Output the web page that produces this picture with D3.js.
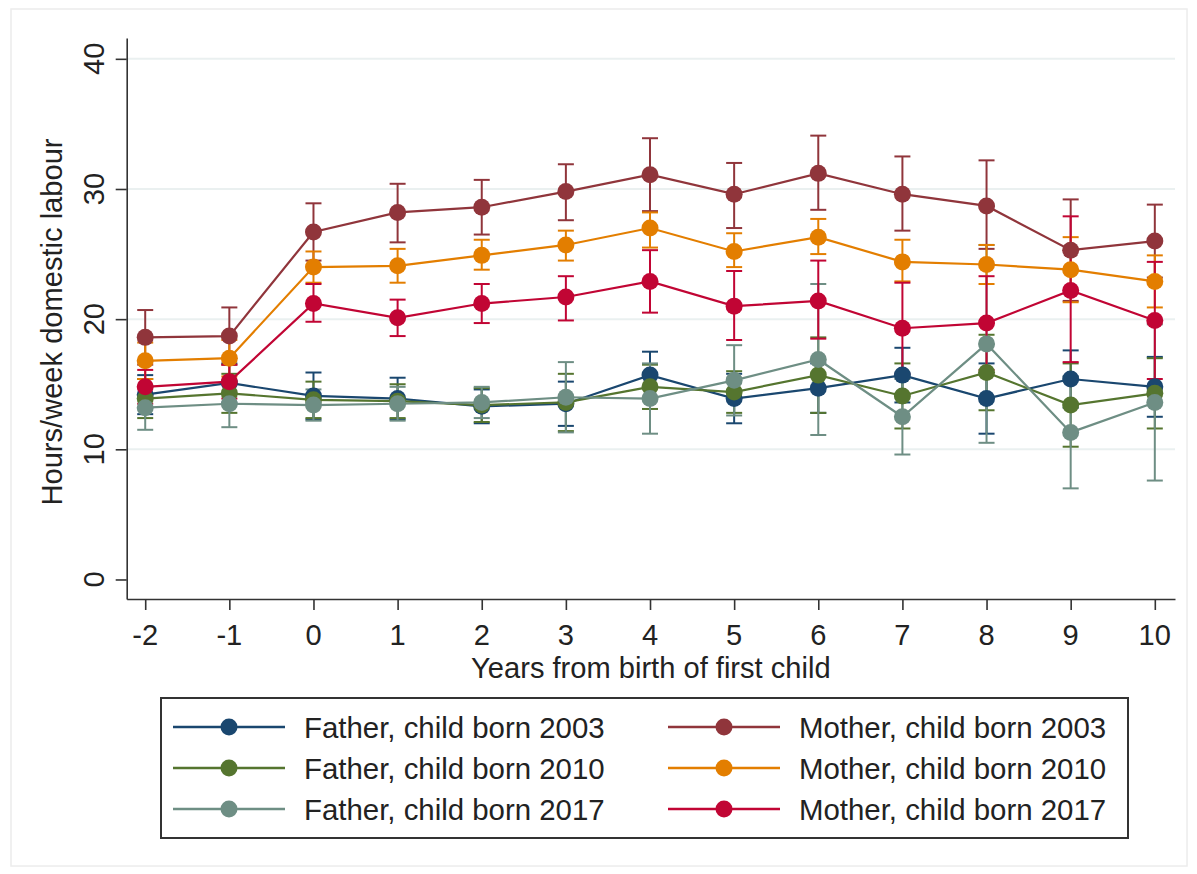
<!DOCTYPE html>
<html>
<head>
<meta charset="utf-8">
<script src="https://cdn.jsdelivr.net/npm/d3@7"></script>
<style>
  html, body { margin: 0; padding: 0; background: #ffffff; }
  svg { display: block; font-family: "Liberation Sans", Arial, sans-serif; }
</style>
</head>
<body>
<svg id="chart" width="1197" height="874"></svg>
<script>
// ---------------- DATA ----------------
const years = [-2, -1, 0, 1, 2, 3, 4, 5, 6, 7, 8, 9, 10];
const yTicks = [0, 10, 20, 30, 40];

const father2003   = [14.2, 15.1, 14.1, 13.9, 13.3, 13.5, 15.7, 13.9, 14.7, 15.7, 13.9, 15.4, 14.8];
const father2003Lo = [12.7, 13.6, 12.3, 12.3, 12.0, 11.8, 13.9, 12.0, 12.8, 13.6, 11.2, 13.2, 12.5];
const father2003Hi = [15.7, 16.6, 15.9, 15.5, 14.6, 15.2, 17.5, 15.8, 16.6, 17.8, 16.6, 17.6, 17.1];

const father2010   = [13.9, 14.3, 13.8, 13.7, 13.4, 13.6, 14.8, 14.4, 15.7, 14.1, 15.9, 13.4, 14.3];
const father2010Lo = [12.4, 12.8, 12.4, 12.4, 12.1, 11.4, 13.1, 12.8, 12.8, 11.6, 13.0, 10.2, 11.6];
const father2010Hi = [15.4, 15.8, 15.2, 15.0, 14.7, 15.8, 16.5, 16.0, 18.6, 16.6, 18.8, 16.6, 17.0];

const father2017   = [13.2, 13.5, 13.4, 13.5, 13.6, 14.0, 13.9, 15.3, 16.9, 12.5, 18.1, 11.3, 13.6];
const father2017Lo = [11.5, 11.7, 12.2, 12.2, 12.4, 11.3, 11.2, 12.6, 11.1, 9.6, 10.5, 7.0, 7.6];
const father2017Hi = [14.9, 15.3, 14.6, 14.8, 14.8, 16.7, 16.6, 18.0, 22.7, 15.4, 25.7, 15.6, 19.6];

const mother2003   = [18.6, 18.7, 26.7, 28.2, 28.6, 29.8, 31.1, 29.6, 31.2, 29.6, 28.7, 25.3, 26.0];
const mother2003Lo = [16.5, 16.5, 24.5, 25.9, 26.5, 27.6, 28.3, 27.0, 28.4, 26.8, 25.4, 21.4, 23.2];
const mother2003Hi = [20.7, 20.9, 28.9, 30.4, 30.7, 31.9, 33.9, 32.0, 34.1, 32.5, 32.2, 29.2, 28.8];

const mother2010   = [16.8, 17.0, 24.0, 24.1, 24.9, 25.7, 27.0, 25.2, 26.3, 24.4, 24.2, 23.8, 22.9];
const mother2010Lo = [15.4, 15.6, 22.8, 22.8, 23.8, 24.5, 25.5, 24.0, 25.0, 22.9, 22.7, 21.3, 20.9];
const mother2010Hi = [18.2, 18.4, 25.2, 25.4, 26.1, 26.8, 28.2, 26.6, 27.7, 26.1, 25.7, 26.3, 24.9];

const mother2017   = [14.8, 15.2, 21.2, 20.1, 21.2, 21.7, 22.9, 21.0, 21.4, 19.3, 19.7, 22.2, 19.9];
const mother2017Lo = [13.5, 13.9, 19.8, 18.7, 19.7, 19.9, 20.5, 18.4, 18.5, 15.8, 16.1, 16.7, 15.4];
const mother2017Hi = [16.1, 16.5, 22.7, 21.5, 22.7, 23.3, 25.3, 23.7, 24.5, 22.8, 23.3, 27.9, 24.4];

const seriesNames = [
  "Father, child born 2003", "Father, child born 2010", "Father, child born 2017",
  "Mother, child born 2003", "Mother, child born 2010", "Mother, child born 2017"
];
const seriesColors = ["#1a476f", "#55752f", "#6e8e84", "#90353b", "#e37e00", "#c10534"];

const xTitle = "Years from birth of first child";
const yTitle = "Hours/week domestic labour";

// --------------- BUILD ---------------
const series = [
  { name: seriesNames[0], color: seriesColors[0], v: father2003, lo: father2003Lo, hi: father2003Hi },
  { name: seriesNames[1], color: seriesColors[1], v: father2010, lo: father2010Lo, hi: father2010Hi },
  { name: seriesNames[2], color: seriesColors[2], v: father2017, lo: father2017Lo, hi: father2017Hi },
  { name: seriesNames[3], color: seriesColors[3], v: mother2003, lo: mother2003Lo, hi: mother2003Hi },
  { name: seriesNames[4], color: seriesColors[4], v: mother2010, lo: mother2010Lo, hi: mother2010Hi },
  { name: seriesNames[5], color: seriesColors[5], v: mother2017, lo: mother2017Lo, hi: mother2017Hi }
];

const svg = d3.select("#chart");
const textColor = "#222";
const fs = 30;
const sx = 0.97;

// outer faint frame
svg.append("rect").attr("x", 11).attr("y", 9).attr("width", 1176).attr("height", 857)
  .attr("fill", "none").attr("stroke", "#ececec").attr("stroke-width", 1.5);

const x = d3.scaleLinear().domain([-2.22, 10.24]).range([126.7, 1175]);
const y = d3.scaleLinear().domain([-1.5, 41.6]).range([599, 38]);

// grid
svg.append("g").selectAll("line").data(yTicks.filter(d => d > 0)).join("line")
  .attr("x1", x.range()[0]).attr("x2", x.range()[1])
  .attr("y1", d => y(d)).attr("y2", d => y(d))
  .attr("stroke", "#eaf0f0").attr("stroke-width", 2);

// axes
const yAxis = svg.append("g").attr("transform", `translate(${x.range()[0]},0)`)
  .call(d3.axisLeft(y).tickValues(yTicks).tickSize(11).tickSizeOuter(0).tickFormat(""));
const xAxis = svg.append("g").attr("transform", `translate(0,${y.range()[0]})`)
  .call(d3.axisBottom(x).tickValues(years).tickSize(11).tickSizeOuter(0).tickFormat(""));
[yAxis, xAxis].forEach(a => {
  a.selectAll("path, line").attr("stroke", "#333").attr("stroke-width", 1.6);
});

// y tick labels (rotated)
svg.append("g").selectAll("text").data(yTicks).join("text")
  .attr("transform", d => `translate(104,${y(d)}) rotate(-90) scale(${sx},1)`)
  .attr("text-anchor", "middle").attr("font-size", fs).attr("fill", textColor)
  .text(d => d);

// x tick labels
svg.append("g").selectAll("text").data(years).join("text")
  .attr("transform", d => `translate(${x(d)},645) scale(${sx},1)`)
  .attr("text-anchor", "middle").attr("font-size", fs).attr("fill", textColor)
  .text(d => d);

// axis titles
svg.append("text")
  .attr("transform", `translate(${(x.range()[0] + x.range()[1]) / 2},678) scale(${sx},1)`)
  .attr("text-anchor", "middle").attr("font-size", fs).attr("fill", textColor)
  .text(xTitle);
svg.append("text")
  .attr("transform", `translate(62,322) rotate(-90) scale(${sx},1)`)
  .attr("text-anchor", "middle").attr("font-size", fs).attr("fill", textColor)
  .text(yTitle);

// error bars
const capW = 8;
const eb = svg.append("g");
series.forEach(s => {
  const g = eb.append("g").attr("stroke", s.color).attr("stroke-width", 2);
  years.forEach((yr, i) => {
    g.append("line").attr("x1", x(yr)).attr("x2", x(yr)).attr("y1", y(s.lo[i])).attr("y2", y(s.hi[i]));
    g.append("line").attr("x1", x(yr) - capW).attr("x2", x(yr) + capW).attr("y1", y(s.lo[i])).attr("y2", y(s.lo[i]));
    g.append("line").attr("x1", x(yr) - capW).attr("x2", x(yr) + capW).attr("y1", y(s.hi[i])).attr("y2", y(s.hi[i]));
  });
});

// lines + markers
const line = d3.line().x((d, i) => x(years[i])).y(d => y(d));
series.forEach(s => {
  svg.append("path").datum(s.v).attr("d", line)
    .attr("fill", "none").attr("stroke", s.color).attr("stroke-width", 2.2);
  svg.append("g").selectAll("circle").data(s.v).join("circle")
    .attr("cx", (d, i) => x(years[i])).attr("cy", d => y(d)).attr("r", 8.5)
    .attr("fill", s.color);
});

// legend
const lg = svg.append("g");
lg.append("rect").attr("x", 161).attr("y", 698).attr("width", 967).attr("height", 140)
  .attr("fill", "#fff").attr("stroke", "#333").attr("stroke-width", 2);
const rowY = [727, 768, 809];
const colX = [173, 668];
series.forEach((s, k) => {
  const col = k < 3 ? 0 : 1;
  const row = k % 3;
  const x0 = colX[col], yy = rowY[row];
  lg.append("line").attr("x1", x0).attr("x2", x0 + 112).attr("y1", yy).attr("y2", yy)
    .attr("stroke", s.color).attr("stroke-width", 2.5);
  lg.append("circle").attr("cx", x0 + 56).attr("cy", yy).attr("r", 8.5).attr("fill", s.color);
  lg.append("text").attr("transform", `translate(${x0 + 131},${yy + 11}) scale(0.98,1)`)
    .attr("font-size", fs).attr("fill", textColor).text(s.name);
});
</script>
</body>
</html>
